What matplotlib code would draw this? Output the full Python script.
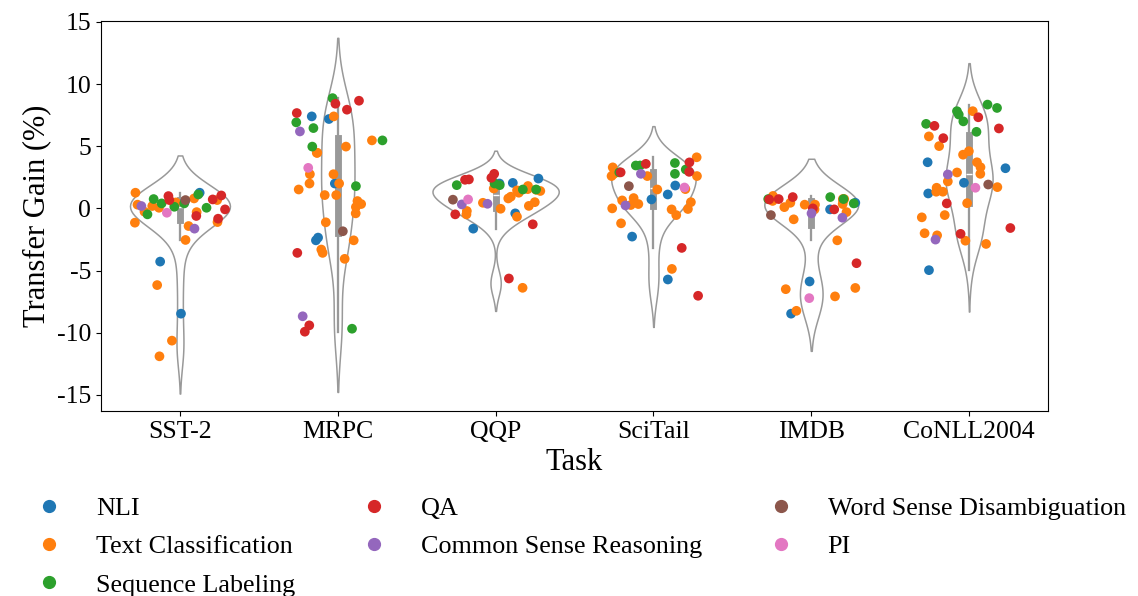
import numpy as np
import pandas as pd
import matplotlib
matplotlib.use("Agg")
import matplotlib.pyplot as plt
from matplotlib.lines import Line2D
import seaborn as sns

# values (transfer gain in %), per task and category
tasks = ["SST-2", "MRPC", "QQP", "SciTail", "IMDB", "CoNLL2004"]
categories = ["NLI", "Text Classification", "Sequence Labeling", "QA",
              "Common Sense Reasoning", "Word Sense Disambiguation", "PI"]

sst2 = {
    "NLI": [0.53, 1.26, -4.28, -8.47],
    "Text Classification": [0.67, -1.1, -0.27, 0.19, 0.3, 0.35, 1.26, 0.48, 0.8,
                            0.05, -0.3, -1.42, -1.15, -2.54, -6.17, -10.64, -11.9],
    "Sequence Labeling": [1.12, 0.13, -0.48, 0.4, 0.05, 0.4, 0.75],
    "QA": [0.67, 1.04, -0.08, -0.61, -0.83, 0.72, 0.99],
    "Common Sense Reasoning": [0.19, -1.63],
    "Word Sense Disambiguation": [0.67],
    "PI": [-0.35],
}
mrpc = {
    "NLI": [7.4, 7.19, 2.0, -2.57, -2.35],
    "Text Classification": [7.4, 5.47, 4.97, 4.47, 4.47, 2.75, 2.75, 2.0, 2.0, 1.52,
                            1.07, 1.07, 0.59, 0.35, 0.11, -0.4, -1.12, -2.57, -3.58,
                            -4.06, -3.31],
    "Sequence Labeling": [8.87, 6.92, 6.46, 5.47, 4.97, 1.79, -9.68],
    "QA": [8.66, 8.42, 7.94, 7.67, -3.58, -9.41, -9.92],
    "Common Sense Reasoning": [6.19, -8.68],
    "Word Sense Disambiguation": [-1.84],
    "PI": [3.26],
}
qqp = {
    "NLI": [2.4, 2.05, 2.0, -0.4, -1.63],
    "Text Classification": [1.5, 1.55, 1.45, 1.6, 1.8, 1.26, 0.94, 0.5, 0.8, 0.45,
                            -0.03, -0.21, -0.48, -0.67, -6.39, 1.4, 0.2],
    "Sequence Labeling": [1.87, 1.87, 2.0, 1.52, 1.52],
    "QA": [2.78, 2.46, 2.33, 2.3, -0.48, -1.28, -5.64],
    "Common Sense Reasoning": [0.32, 0.37],
    "Word Sense Disambiguation": [0.7],
    "PI": [0.72],
}
scitail = {
    "NLI": [1.84, 1.12, 0.72, -2.27, -5.72],
    "Text Classification": [4.11, 2.6, 3.3, 2.6, 2.78, 2.6, 1.52, 1.55, 0.64, 0.27,
                            -0.08, 0.5, 0.35, 0.0, -0.05, 0.83, -0.54, -1.2, -4.87],
    "Sequence Labeling": [3.13, 2.78, 3.45, 3.65, 2.9, 3.45],
    "QA": [3.58, 2.94, 2.9, 3.7, -3.18, -7.03],
    "Common Sense Reasoning": [2.78, 0.24],
    "Word Sense Disambiguation": [1.79],
    "PI": [1.68],
}
imdb = {
    "NLI": [0.45, -0.08, -5.88, -8.47],
    "Text Classification": [0.75, -0.3, 0.6, 0.1, 0.35, 0.75, -0.88, 0.45, 0.3, 0.3,
                            1.0, 0.6, -0.08, -2.57, -6.5, -6.4, -7.08, -8.24],
    "Sequence Labeling": [0.4, 0.91, 0.75, 0.75],
    "QA": [0.72, -0.08, 0.91, 0.0, 0.75, -4.41],
    "Common Sense Reasoning": [-0.4, -0.75],
    "Word Sense Disambiguation": [-0.54],
    "PI": [-7.22],
}
conll = {
    "NLI": [3.71, 3.23, 2.06, 1.2, -4.97],
    "Text Classification": [7.82, 5.79, 5.01, 4.32, 4.6, 3.71, 3.31, 2.89, 2.78, 1.66,
                            2.17, 1.71, 1.34, 1.34, -0.54, 0.42, -0.72, -2.0, -2.6,
                            -2.17, -2.86],
    "Sequence Labeling": [8.08, 6.16, 8.35, 7.55, 6.8, 7.0, 7.82],
    "QA": [7.33, 6.64, 5.65, 6.43, 0.4, -2.05, -1.58],
    "Common Sense Reasoning": [2.73, -2.51],
    "Word Sense Disambiguation": [1.92],
    "PI": [1.66],
}

plt.rcParams['font.family'] = ['Liberation Serif', 'DejaVu Serif']
plt.rcParams['axes.unicode_minus'] = False

rows = []
for task, d in zip(tasks, [sst2, mrpc, qqp, scitail, imdb, conll]):
    for cat in categories:
        for v in d[cat]:
            rows.append((task, cat, v))
df = pd.DataFrame(rows, columns=["Task", "Category", "Gain"])

np.random.seed(3)
fig = plt.figure(figsize=(11.38, 5.96), dpi=100)
ax = fig.add_axes([0.0888, 0.3104, 0.8321, 0.6549])

sns.violinplot(data=df, x="Task", y="Gain", order=tasks, color="white",
               inner="box", linewidth=1.1, ax=ax)
palette = dict(zip(categories, sns.color_palette("tab10", len(categories))))
sns.stripplot(data=df, x="Task", y="Gain", order=tasks, hue="Category",
              hue_order=categories, palette=palette, jitter=0.3, size=7,
              linewidth=0, ax=ax, legend=False)

ax.set_ylim(-16.3, 15.1)
ax.set_yticks([-15, -10, -5, 0, 5, 10, 15])
ax.tick_params(labelsize=18.5)
ax.set_xlabel("Task", fontsize=22)
ax.set_ylabel("Transfer Gain (%)", fontsize=22)

handles = [Line2D([], [], marker='o', linestyle='', color=palette[c], markersize=8.5)
           for c in categories]
ax.legend(handles, categories, ncol=3, loc='upper center',
          bbox_to_anchor=(0.5, -0.16), frameon=False, fontsize=18.8,
          labelspacing=0.57)

fig.savefig("out.png", dpi=100)
